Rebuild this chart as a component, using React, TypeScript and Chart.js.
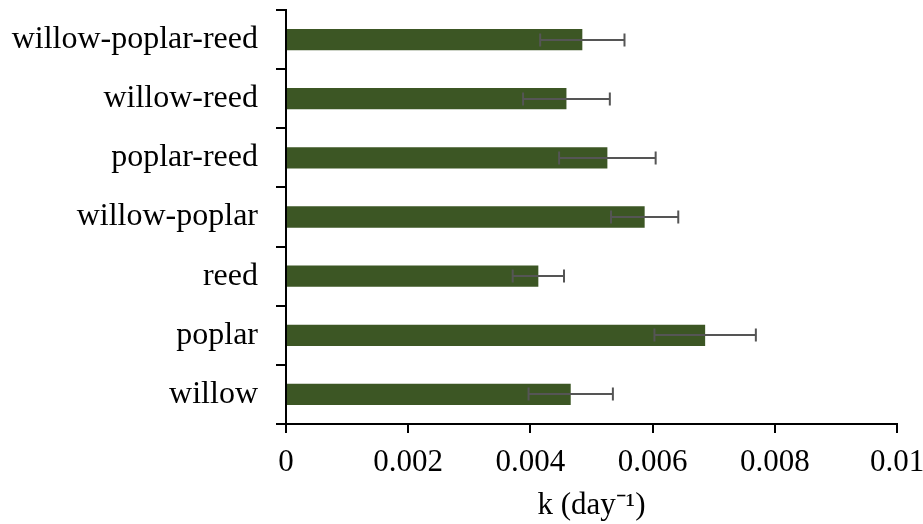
import React, { useEffect, useRef } from "react";
import { Chart, registerables } from "chart.js";

Chart.register(...registerables);

const categories = [
  "willow-poplar-reed",
  "willow-reed",
  "poplar-reed",
  "willow-poplar",
  "reed",
  "poplar",
  "willow",
];
const kValues = [0.00485, 0.00459, 0.00526, 0.00587, 0.00413, 0.00686, 0.00466];
const kErrors = [0.00069, 0.00071, 0.00079, 0.00055, 0.00042, 0.00083, 0.00069];
const xTickLabels = ["0", "0.002", "0.004", "0.006", "0.008", "0.01"];
const xTitle = "k (day\u207B\u00B9)";

const FONT = "'Liberation Serif', 'Times New Roman', serif";

const errorBarPlugin = {
  id: "errorBars",
  afterDatasetsDraw(chart: any) {
    const meta = chart.getDatasetMeta(0);
    const xs = chart.scales.x;
    const ctx = chart.ctx;
    ctx.save();
    ctx.strokeStyle = "#555555";
    ctx.lineWidth = 2;
    meta.data.forEach((el: any, i: number) => {
      const v = kValues[i];
      const e = kErrors[i];
      const x0 = xs.getPixelForValue(v - e);
      const x1 = xs.getPixelForValue(v + e);
      const y = Math.round(el.y);
      const cap = 6.5;
      ctx.beginPath();
      ctx.moveTo(x0, y);
      ctx.lineTo(x1, y);
      ctx.moveTo(x0, y - cap);
      ctx.lineTo(x0, y + cap);
      ctx.moveTo(x1, y - cap);
      ctx.lineTo(x1, y + cap);
      ctx.stroke();
    });
    ctx.restore();
  },
};

export default function App() {
  const ref = useRef<HTMLCanvasElement | null>(null);
  useEffect(() => {
    document.body.style.margin = "0";
    const canvas = ref.current;
    if (!canvas) return;
    const chart = new Chart(canvas, {
      type: "bar",
      data: {
        labels: categories,
        datasets: [
          {
            data: kValues,
            backgroundColor: "#3c5624",
            borderWidth: 0,
            barPercentage: 0.36,
            categoryPercentage: 1,
          },
        ],
      },
      options: {
        indexAxis: "y",
        responsive: false,
        animation: false,
        devicePixelRatio: 1,
        layout: { padding: { top: 10, right: 26, bottom: 0, left: 0 } },
        plugins: {
          legend: { display: false },
          tooltip: { enabled: false },
        },
        scales: {
          x: {
            type: "linear",
            min: 0,
            max: 0.01,
            afterFit: (s: any) => {
              s.height = 100;
              s.paddingLeft = 0;
              s.paddingRight = 0;
              s.paddingTop = 0;
              s.paddingBottom = 0;
            },
            ticks: {
              stepSize: 0.002,
              color: "#000",
              padding: 11,
              font: { family: FONT, size: 31 },
              callback: (_v: any, i: number) => xTickLabels[i],
              maxRotation: 0,
            },
            grid: {
              drawOnChartArea: false,
              drawTicks: true,
              tickLength: 9,
              color: "#000",
              lineWidth: 2,
            },
            border: { display: true, color: "#000", width: 2 },
            title: {
              display: true,
              text: xTitle,
              color: "#000",
              font: { family: FONT, size: 31 },
              padding: { top: 2, bottom: 0 },
            },
          },
          y: {
            afterFit: (s: any) => {
              s.width = 286;
              s.paddingLeft = 0;
              s.paddingRight = 0;
              s.paddingTop = 0;
              s.paddingBottom = 0;
            },
            ticks: {
              color: "#000",
              padding: 18,
              font: { family: FONT, size: 32 },
            },
            grid: {
              offset: true,
              drawOnChartArea: false,
              drawTicks: true,
              tickLength: 10,
              color: "#000",
              lineWidth: 2,
            },
            border: { display: true, color: "#000", width: 2 },
          },
        },
      },
      plugins: [errorBarPlugin],
    } as any);
    return () => chart.destroy();
  }, []);
  return <canvas ref={ref} width={923} height={524} style={{ display: "block" }} />;
}
